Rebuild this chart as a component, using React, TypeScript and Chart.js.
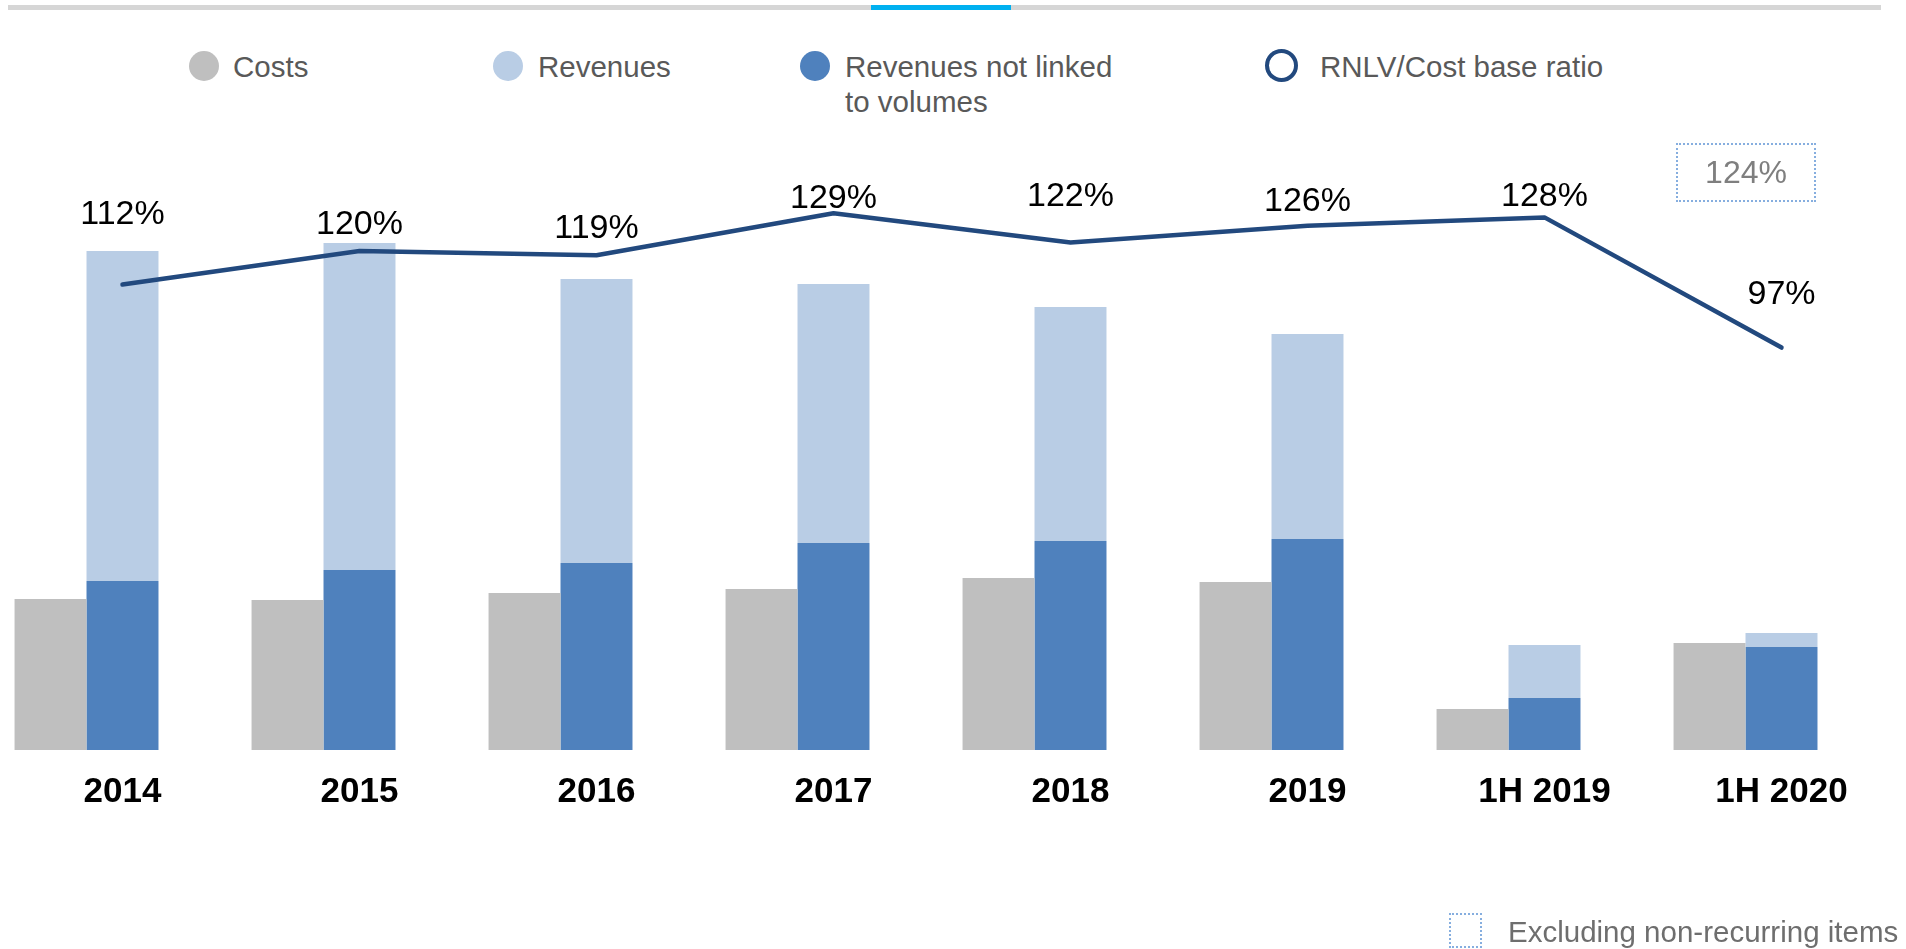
import React, { useEffect, useRef } from 'react';
import { Chart, registerables } from 'chart.js';

Chart.register(...registerables);

// ---- data ----
const categories = ['2014', '2015', '2016', '2017', '2018', '2019', '1H 2019', '1H 2020'];
const costs = [151, 150, 157, 161, 172, 168, 41, 107];
const revenues = [499, 507, 471, 466, 443, 416, 105, 117];
const rnlv = [169, 180, 187, 207, 209, 211, 52, 103];
const ratio = [112, 120, 119, 129, 122, 126, 128, 97];
const ratioLabels = ['112%', '120%', '119%', '129%', '122%', '126%', '128%', '97%'];
const adjustedRatioLabel = '124%';
const legendLabels = ['Costs', 'Revenues', 'Revenues not linked', 'to volumes', 'RNLV/Cost base ratio'];
const footnote = 'Excluding non-recurring items';

// ---- styles ----
const FONT = "'Liberation Sans', Arial, Helvetica, sans-serif";
const GRAY = '#BFBFBF';
const LIGHT = '#B9CDE5';
const BLUE = '#4F81BD';
const NAVY = '#22497E';
const DOTTED = '#86AEDF';
const LEGEND_TEXT = '#595959';
const labelLift = [70, 26, 27, 15, 46, 24, 21, 53];

if (typeof document !== 'undefined') {
  document.body.style.margin = '0';
}

const ratioLabelPlugin = {
  id: 'ratioLabels',
  afterDatasetsDraw(chart: any) {
    const meta = chart.getDatasetMeta(0);
    const ctx = chart.ctx;
    ctx.save();
    ctx.font = `34px ${FONT}`;
    ctx.fillStyle = '#000000';
    ctx.textAlign = 'center';
    ctx.textBaseline = 'middle';
    meta.data.forEach((pt: any, i: number) => {
      ctx.fillText(ratioLabels[i], pt.x, pt.y - labelLift[i]);
    });
    ctx.restore();
  },
};

function Dot({ x, color, hollow }: { x: number; color: string; hollow?: boolean }) {
  const d = hollow ? 33 : 30;
  return (
    <div
      style={{
        position: 'absolute',
        left: x - d / 2,
        top: 65.5 - d / 2,
        width: d,
        height: d,
        borderRadius: '50%',
        boxSizing: 'border-box',
        background: hollow ? '#fff' : color,
        border: hollow ? `4px solid ${color}` : 'none',
      }}
    />
  );
}

function LegendText({ x, y, text, color }: { x: number; y: number; text: string; color?: string }) {
  return (
    <div
      style={{
        position: 'absolute',
        left: x,
        top: y,
        fontFamily: FONT,
        fontSize: 29.5,
        lineHeight: '35px',
        color: color || LEGEND_TEXT,
        whiteSpace: 'nowrap',
      }}
    >
      {text}
    </div>
  );
}

export default function App() {
  const canvasRef = useRef<HTMLCanvasElement>(null);

  useEffect(() => {
    const revenueRest = revenues.map((v, i) => v - rnlv[i]);
    const chart = new Chart(canvasRef.current as HTMLCanvasElement, {
      type: 'bar',
      data: {
        labels: categories,
        datasets: [
          {
            type: 'line',
            label: legendLabels[4],
            data: ratio,
            yAxisID: 'y2',
            borderColor: NAVY,
            borderWidth: 4.5,
            pointRadius: 0,
            borderCapStyle: 'round',
            borderJoinStyle: 'round',
            tension: 0,
            order: 0,
          } as any,
          { label: legendLabels[0], data: costs, backgroundColor: GRAY, stack: 'c', order: 1 },
          { label: 'Revenues not linked to volumes', data: rnlv, backgroundColor: BLUE, stack: 'r', order: 1 },
          { label: legendLabels[1], data: revenueRest, backgroundColor: LIGHT, stack: 'r', order: 1 },
          { label: 'spacer', data: categories.map(() => 0), backgroundColor: 'rgba(0,0,0,0)', stack: 'z', order: 1 },
        ],
      },
      options: {
        animation: false,
        responsive: true,
        maintainAspectRatio: false,
        layout: { padding: { top: 100, bottom: 99, left: 0, right: 0 } },
        datasets: { bar: { categoryPercentage: 0.911, barPercentage: 1, borderWidth: 0 } },
        plugins: { legend: { display: false }, tooltip: { enabled: false } },
        scales: {
          x: {
            grid: { display: false, drawTicks: false },
            border: { display: false },
            ticks: {
              padding: 21,
              color: '#000000',
              font: { family: FONT, size: 35, weight: 'bold' },
              maxRotation: 0,
              autoSkip: false,
            },
            afterFit: (s: any) => {
              s.height = 100;
            },
          },
          y: { display: false, stacked: true, min: 0, max: 650 },
          y2: { display: false, min: 1.19, max: 155.95 },
        },
      } as any,
      plugins: [ratioLabelPlugin],
    });
    return () => chart.destroy();
  }, []);

  return (
    <div style={{ position: 'relative', width: 1906, height: 949, overflow: 'hidden', background: '#fff' }}>
      {/* top rule */}
      <div style={{ position: 'absolute', left: 8, top: 5, width: 1873, height: 5, background: '#D6D6D6' }} />
      <div style={{ position: 'absolute', left: 871, top: 5, width: 140, height: 5, background: '#00B0F0' }} />

      {/* legend */}
      <Dot x={203.5} color={GRAY} />
      <LegendText x={233} y={49} text={legendLabels[0]} />
      <Dot x={507.5} color={LIGHT} />
      <LegendText x={538} y={49} text={legendLabels[1]} />
      <Dot x={815} color={BLUE} />
      <LegendText x={845} y={49} text={legendLabels[2]} />
      <LegendText x={845} y={84} text={legendLabels[3]} />
      <Dot x={1281} color={NAVY} hollow />
      <LegendText x={1320} y={49} text={legendLabels[4]} />

      {/* chart */}
      <div style={{ position: 'absolute', left: 4, top: 0, width: 1896, height: 949 }}>
        <canvas ref={canvasRef} />
      </div>

      {/* adjusted ratio box */}
      <div
        style={{
          position: 'absolute',
          left: 1676,
          top: 143,
          width: 140,
          height: 59,
          boxSizing: 'border-box',
          border: `2px dotted ${DOTTED}`,
          display: 'flex',
          alignItems: 'center',
          justifyContent: 'center',
          fontFamily: FONT,
          fontSize: 32,
          color: '#7F7F7F',
        }}
      >
        {adjustedRatioLabel}
      </div>

      {/* footnote */}
      <div
        style={{
          position: 'absolute',
          left: 1449,
          top: 913,
          width: 33,
          height: 35,
          boxSizing: 'border-box',
          border: `2px dotted ${DOTTED}`,
        }}
      />
      <LegendText x={1508} y={914} text={footnote} color="#6E6E6E" />
    </div>
  );
}
